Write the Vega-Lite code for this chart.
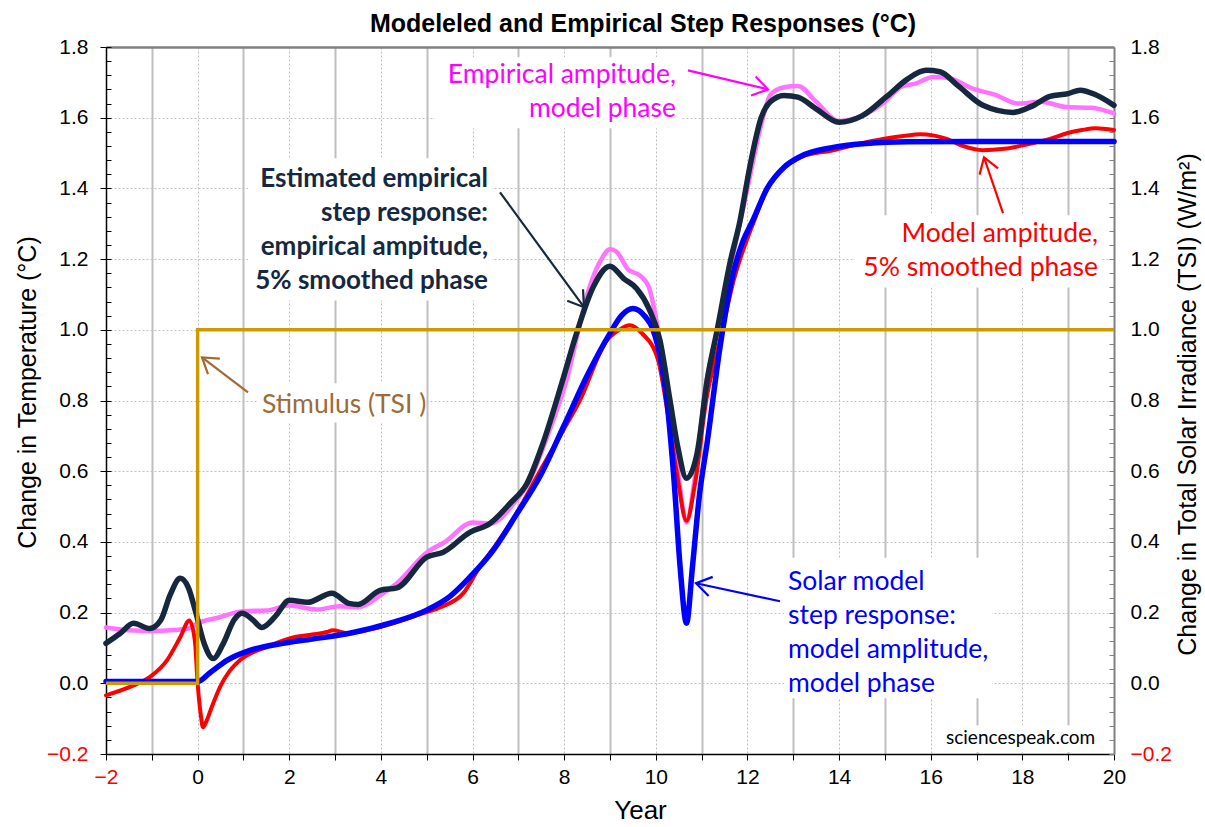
{
  "$schema": "https://vega.github.io/schema/vega-lite/v6.json",
  "width": 1008,
  "height": 707,
  "autosize": {"type": "none"},
  "padding": {"left": 106, "top": 47, "right": 91, "bottom": 73},
  "background": "white",
  "config": {"view": {"stroke": null}, "axis": {"labelFont": "Liberation Sans", "titleFont": "Liberation Sans"}},
  "title": {"text": "Modeleled and Empirical Step Responses (°C)", "font": "Liberation Sans", "fontSize": 25, "fontWeight": "bold", "color": "#000000", "anchor": "middle", "dx": 33, "offset": -1},
  "datasets": {
    "series": [
      {"s":"E","year":-2,"value":0.158},{"s":"E","year":-1.5,"value":0.150},{"s":"E","year":-1,"value":0.148},{"s":"E","year":-0.5,"value":0.151},{"s":"E","year":-0.2,"value":0.155},{"s":"E","year":0,"value":0.170},{"s":"E","year":0.4,"value":0.184},{"s":"E","year":1,"value":0.204},{"s":"E","year":1.5,"value":0.206},{"s":"E","year":2,"value":0.220},{"s":"E","year":2.6,"value":0.209},{"s":"E","year":3.1,"value":0.218},{"s":"E","year":3.5,"value":0.215},{"s":"E","year":4,"value":0.250},{"s":"E","year":4.35,"value":0.283},{"s":"E","year":5,"value":0.370},{"s":"E","year":5.4,"value":0.400},{"s":"E","year":6,"value":0.455},{"s":"E","year":6.4,"value":0.452},{"s":"E","year":6.9,"value":0.509},{"s":"E","year":7.25,"value":0.574},{"s":"E","year":7.6,"value":0.687},{"s":"E","year":8.05,"value":0.857},{"s":"E","year":8.55,"value":1.12},{"s":"E","year":8.8,"value":1.197},{"s":"E","year":9.0,"value":1.228},{"s":"E","year":9.15,"value":1.22},{"s":"E","year":9.4,"value":1.17},{"s":"E","year":9.65,"value":1.154},{"s":"E","year":9.85,"value":1.12},{"s":"E","year":10.05,"value":1.0},{"s":"E","year":10.3,"value":0.80},{"s":"E","year":10.5,"value":0.58},{"s":"E","year":10.67,"value":0.455},{"s":"E","year":10.85,"value":0.58},{"s":"E","year":11.1,"value":0.85},{"s":"E","year":11.35,"value":1.0},{"s":"E","year":11.65,"value":1.19},{"s":"E","year":12.0,"value":1.40},{"s":"E","year":12.3,"value":1.58},{"s":"E","year":12.5,"value":1.665},{"s":"E","year":12.8,"value":1.686},{"s":"E","year":13.1,"value":1.69},{"s":"E","year":13.5,"value":1.645},{"s":"E","year":14.0,"value":1.59},{"s":"E","year":14.5,"value":1.605},{"s":"E","year":15.0,"value":1.645},{"s":"E","year":15.35,"value":1.687},{"s":"E","year":15.7,"value":1.698},{"s":"E","year":16.05,"value":1.715},{"s":"E","year":16.4,"value":1.712},{"s":"E","year":16.9,"value":1.683},{"s":"E","year":17.4,"value":1.665},{"s":"E","year":17.9,"value":1.64},{"s":"E","year":18.4,"value":1.645},{"s":"E","year":18.97,"value":1.63},{"s":"E","year":19.5,"value":1.628},{"s":"E","year":20.0,"value":1.612},
      {"s":"R","year":-2,"value":-0.034},{"s":"R","year":-1.4,"value":-0.006},{"s":"R","year":-1.04,"value":0.018},{"s":"R","year":-0.67,"value":0.065},{"s":"R","year":-0.38,"value":0.13},{"s":"R","year":-0.18,"value":0.178},{"s":"R","year":-0.06,"value":0.12},{"s":"R","year":0,"value":0.0},{"s":"R","year":0.07,"value":-0.09},{"s":"R","year":0.115,"value":-0.124},{"s":"R","year":0.2,"value":-0.105},{"s":"R","year":0.3,"value":-0.07},{"s":"R","year":0.49,"value":-0.01},{"s":"R","year":0.7,"value":0.035},{"s":"R","year":0.92,"value":0.065},{"s":"R","year":1.51,"value":0.103},{"s":"R","year":2.08,"value":0.13},{"s":"R","year":2.5,"value":0.138},{"s":"R","year":2.82,"value":0.145},{"s":"R","year":2.95,"value":0.15},{"s":"R","year":3.26,"value":0.142},{"s":"R","year":3.6,"value":0.148},{"s":"R","year":4.0,"value":0.16},{"s":"R","year":4.85,"value":0.195},{"s":"R","year":5.3,"value":0.215},{"s":"R","year":5.8,"value":0.255},{"s":"R","year":6.16,"value":0.33},{"s":"R","year":6.5,"value":0.39},{"s":"R","year":7.0,"value":0.49},{"s":"R","year":7.47,"value":0.60},{"s":"R","year":8.0,"value":0.72},{"s":"R","year":8.34,"value":0.80},{"s":"R","year":8.93,"value":0.97},{"s":"R","year":9.2,"value":1.0},{"s":"R","year":9.43,"value":1.013},{"s":"R","year":9.7,"value":0.99},{"s":"R","year":10.05,"value":0.914},{"s":"R","year":10.24,"value":0.78},{"s":"R","year":10.46,"value":0.594},{"s":"R","year":10.67,"value":0.46},{"s":"R","year":10.85,"value":0.56},{"s":"R","year":11.1,"value":0.8},{"s":"R","year":11.4,"value":0.97},{"s":"R","year":11.7,"value":1.14},{"s":"R","year":12.15,"value":1.31},{"s":"R","year":12.43,"value":1.40},{"s":"R","year":12.8,"value":1.46},{"s":"R","year":13.2,"value":1.49},{"s":"R","year":13.87,"value":1.508},{"s":"R","year":14.4,"value":1.525},{"s":"R","year":14.96,"value":1.54},{"s":"R","year":15.4,"value":1.548},{"s":"R","year":15.77,"value":1.553},{"s":"R","year":16.05,"value":1.55},{"s":"R","year":16.35,"value":1.54},{"s":"R","year":16.7,"value":1.52},{"s":"R","year":17.14,"value":1.508},{"s":"R","year":17.6,"value":1.512},{"s":"R","year":18.2,"value":1.527},{"s":"R","year":18.6,"value":1.54},{"s":"R","year":18.97,"value":1.556},{"s":"R","year":19.3,"value":1.565},{"s":"R","year":19.6,"value":1.57},{"s":"R","year":20.0,"value":1.565},
      {"s":"B","year":-2,"value":0.005},{"s":"B","year":-1,"value":0.005},{"s":"B","year":0,"value":0.005},{"s":"B","year":0.27,"value":0.03},{"s":"B","year":0.64,"value":0.065},{"s":"B","year":1.14,"value":0.093},{"s":"B","year":1.86,"value":0.113},{"s":"B","year":2.5,"value":0.125},{"s":"B","year":3.26,"value":0.14},{"s":"B","year":3.61,"value":0.15},{"s":"B","year":4.2,"value":0.17},{"s":"B","year":5.0,"value":0.207},{"s":"B","year":5.5,"value":0.245},{"s":"B","year":5.94,"value":0.3},{"s":"B","year":6.45,"value":0.376},{"s":"B","year":6.97,"value":0.48},{"s":"B","year":7.47,"value":0.585},{"s":"B","year":8.0,"value":0.73},{"s":"B","year":8.5,"value":0.87},{"s":"B","year":9.0,"value":0.99},{"s":"B","year":9.25,"value":1.04},{"s":"B","year":9.5,"value":1.06},{"s":"B","year":9.75,"value":1.04},{"s":"B","year":9.94,"value":1.0},{"s":"B","year":10.1,"value":0.92},{"s":"B","year":10.24,"value":0.80},{"s":"B","year":10.4,"value":0.57},{"s":"B","year":10.53,"value":0.33},{"s":"B","year":10.67,"value":0.17},{"s":"B","year":10.8,"value":0.33},{"s":"B","year":10.95,"value":0.53},{"s":"B","year":11.12,"value":0.68},{"s":"B","year":11.4,"value":0.95},{"s":"B","year":11.69,"value":1.16},{"s":"B","year":11.9,"value":1.25},{"s":"B","year":12.12,"value":1.31},{"s":"B","year":12.43,"value":1.40},{"s":"B","year":12.8,"value":1.46},{"s":"B","year":13.15,"value":1.49},{"s":"B","year":13.87,"value":1.516},{"s":"B","year":14.6,"value":1.527},{"s":"B","year":15.5,"value":1.532},{"s":"B","year":17,"value":1.533},{"s":"B","year":20,"value":1.533},
      {"s":"N","year":-2,"value":0.113},{"s":"N","year":-1.7,"value":0.14},{"s":"N","year":-1.4,"value":0.170},{"s":"N","year":-1.05,"value":0.155},{"s":"N","year":-0.8,"value":0.18},{"s":"N","year":-0.6,"value":0.25},{"s":"N","year":-0.38,"value":0.297},{"s":"N","year":-0.2,"value":0.27},{"s":"N","year":-0.05,"value":0.205},{"s":"N","year":0.15,"value":0.11},{"s":"N","year":0.34,"value":0.07},{"s":"N","year":0.55,"value":0.11},{"s":"N","year":0.8,"value":0.18},{"s":"N","year":0.97,"value":0.198},{"s":"N","year":1.2,"value":0.18},{"s":"N","year":1.4,"value":0.158},{"s":"N","year":1.7,"value":0.19},{"s":"N","year":2.0,"value":0.235},{"s":"N","year":2.4,"value":0.229},{"s":"N","year":2.93,"value":0.255},{"s":"N","year":3.3,"value":0.226},{"s":"N","year":3.5,"value":0.223},{"s":"N","year":3.98,"value":0.263},{"s":"N","year":4.35,"value":0.27},{"s":"N","year":5.0,"value":0.357},{"s":"N","year":5.36,"value":0.371},{"s":"N","year":5.94,"value":0.427},{"s":"N","year":6.38,"value":0.452},{"s":"N","year":6.82,"value":0.509},{"s":"N","year":7.19,"value":0.566},{"s":"N","year":7.54,"value":0.68},{"s":"N","year":7.95,"value":0.85},{"s":"N","year":8.27,"value":0.99},{"s":"N","year":8.63,"value":1.12},{"s":"N","year":9.0,"value":1.18},{"s":"N","year":9.3,"value":1.145},{"s":"N","year":9.58,"value":1.117},{"s":"N","year":9.85,"value":1.06},{"s":"N","year":10.09,"value":0.97},{"s":"N","year":10.31,"value":0.8},{"s":"N","year":10.48,"value":0.668},{"s":"N","year":10.67,"value":0.58},{"s":"N","year":10.9,"value":0.65},{"s":"N","year":11.12,"value":0.857},{"s":"N","year":11.34,"value":1.0},{"s":"N","year":11.62,"value":1.19},{"s":"N","year":11.84,"value":1.31},{"s":"N","year":12.05,"value":1.46},{"s":"N","year":12.3,"value":1.60},{"s":"N","year":12.5,"value":1.645},{"s":"N","year":12.8,"value":1.663},{"s":"N","year":13.1,"value":1.658},{"s":"N","year":13.5,"value":1.625},{"s":"N","year":14.0,"value":1.587},{"s":"N","year":14.5,"value":1.605},{"s":"N","year":15.04,"value":1.66},{"s":"N","year":15.5,"value":1.71},{"s":"N","year":15.9,"value":1.734},{"s":"N","year":16.2,"value":1.73},{"s":"N","year":16.6,"value":1.69},{"s":"N","year":17.14,"value":1.635},{"s":"N","year":17.8,"value":1.615},{"s":"N","year":18.2,"value":1.632},{"s":"N","year":18.6,"value":1.66},{"s":"N","year":19.0,"value":1.668},{"s":"N","year":19.26,"value":1.678},{"s":"N","year":19.6,"value":1.665},{"s":"N","year":20.0,"value":1.635},
      {"s":"S","year":-2,"value":0},{"s":"S","year":0,"value":0},{"s":"S","year":0,"value":1},{"s":"S","year":20,"value":1}
    ],
    "boxes": [
      {"x1":5.181,"x2":10.571,"y1":1.771,"y2":1.570},
      {"x1":1.099,"x2":6.425,"y1":1.485,"y2":1.083},
      {"x1":14.347,"x2":19.738,"y1":1.324,"y2":1.120},
      {"x1":12.798,"x2":17.337,"y1":0.355,"y2":-0.042},
      {"x1":1.317,"x2":4.962,"y1":0.849,"y2":0.738},
      {"x1":16.159,"x2":19.694,"y1":-0.119,"y2":-0.195}
    ],
    "arrows": [
      {"c":"Et","x1":10.702,"y1":1.734,"x2":12.448,"y2":1.680,"angle":13.4},
      {"c":"N","x1":6.599,"y1":1.389,"x2":8.432,"y2":1.064,"angle":53.9},
      {"c":"R","x1":17.577,"y1":1.330,"x2":17.163,"y2":1.488,"angle":-108.7},
      {"c":"B","x1":12.710,"y1":0.232,"x2":10.877,"y2":0.283,"angle":-167.9},
      {"c":"St","x1":1.099,"y1":0.823,"x2":0.095,"y2":0.922,"angle":-142.7}
    ],
    "notesRight": [
      {"c":"Et","x":10.44,"y":1.697,"t":"Empirical ampitude,\nmodel phase"},
      {"c":"R","x":19.651,"y":1.2475,"t":"Model ampitude,\n5% smoothed phase"}
    ],
    "notesBold": [
      {"c":"N","x":6.337,"y":1.403,"t":"Estimated empirical\nstep response:\nempirical ampitude,\n5% smoothed phase"}
    ],
    "notesLeft": [
      {"c":"B","x":12.885,"y":0.263,"t":"Solar model\nstep response:\nmodel amplitude,\nmodel phase"},
      {"c":"St","x":1.405,"y":0.764,"t":"Stimulus (TSI )"}
    ],
    "credit": [
      {"c":"K","x":16.333,"y":-0.1726,"t":"sciencespeak.com"}
    ]
  },
  "layer": [
    {
      "data": {"name": "boxes"},
      "mark": {"type": "rect", "fill": "white", "stroke": null},
      "encoding": {
        "x": {"field": "x1", "type": "quantitative", "scale": {"domain": [-2, 20], "nice": false, "zero": false}, "axis": null},
        "x2": {"field": "x2"},
        "y": {"field": "y1", "type": "quantitative", "scale": {"domain": [-0.2, 1.8], "nice": false, "zero": false}, "axis": null},
        "y2": {"field": "y2"}
      }
    },
    {
      "data": {"name": "series"},
      "transform": [{"filter": "datum.s == 'E'"}],
      "mark": {"type": "line", "interpolate": "monotone", "strokeWidth": 4.5, "strokeCap": "round", "strokeJoin": "round"},
      "encoding": {
        "x": {"field": "year", "type": "quantitative", "scale": {"domain": [-2, 20], "nice": false, "zero": false},
          "axis": {"orient": "bottom", "values": [-2,-1,0,1,2,3,4,5,6,7,8,9,10,11,12,13,14,15,16,17,18,19,20],
            "labelExpr": "abs(datum.value) % 2 == 0 ? datum.label : ''", "labelFontSize": 21, "labelPadding": 6, "labelFlush": false, "labelOverlap": false,
            "labelColor": {"condition": {"test": "datum.value == -2", "value": "#FF0000"}, "value": "#000000"},
            "tickSize": 6, "tickColor": "#000000", "domainColor": "#000000", "domainWidth": 1.5,
            "grid": true, "gridColor": "#BFBFBF",
            "gridDash": {"condition": {"test": "abs(datum.value) % 2 == 1", "value": []}, "value": [2, 2]},
            "gridWidth": {"condition": {"test": "abs(datum.value) % 2 == 1", "value": 2}, "value": 1},
            "title": "Year", "titleFontSize": 26, "titleFontWeight": "normal", "titleColor": "#000000", "titleX": 534, "titleY": 64, "titleBaseline": "alphabetic"}},
        "y": {"field": "value", "type": "quantitative", "scale": {"domain": [-0.2, 1.8], "nice": false, "zero": false},
          "axis": {"orient": "left", "values": [-0.2,0,0.2,0.4,0.6,0.8,1,1.2,1.4,1.6,1.8], "format": ".1f", "labelFontSize": 21, "labelPadding": 12, "labelFlush": false,
            "labelColor": {"condition": {"test": "datum.value < -0.1", "value": "#FF0000"}, "value": "#000000"},
            "tickSize": 6, "tickColor": "#000000", "domainColor": "#000000", "domainWidth": 1.5,
            "grid": true, "gridColor": "#C0C0C0", "gridDash": [2, 2], "gridWidth": 1,
            "title": "Change in Temperature (°C)", "titleFontSize": 25, "titleFontWeight": "normal", "titleColor": "#000000", "titleX": -71, "titleY": 345, "titleBaseline": "alphabetic"}},
        "color": {"field": "s", "type": "nominal", "legend": null, "scale": {"domain": ["E","N","R","B","S","Et","St","K"], "range": ["#FF73FF","#15283F","#FF0000","#0000FF","#CF9A00","#FF00FF","#A06A36","#000000"]}},
        "order": {"value": null}
      }
    },
    {
      "data": {"name": "series"},
      "transform": [{"filter": "datum.s == 'R'"}],
      "mark": {"type": "line", "interpolate": "monotone", "strokeWidth": 4, "strokeCap": "round", "strokeJoin": "round"},
      "encoding": {
        "x": {"field": "year", "type": "quantitative", "scale": {"domain": [-2, 20], "nice": false, "zero": false},
          "axis": {"orient": "top", "labels": false, "ticks": false, "grid": false, "domainColor": "#808080", "domainWidth": 2.5, "title": null}},
        "y": {"field": "value", "type": "quantitative", "scale": {"domain": [-0.2, 1.8], "nice": false, "zero": false},
          "axis": {"orient": "left", "values": [-0.2,-0.16,-0.12,-0.08,-0.04,0,0.04,0.08,0.12,0.16,0.2,0.24,0.28,0.32,0.36,0.4,0.44,0.48,0.52,0.56,0.6,0.64,0.68,0.72,0.76,0.8,0.84,0.88,0.92,0.96,1,1.04,1.08,1.12,1.16,1.2,1.24,1.28,1.32,1.36,1.4,1.44,1.48,1.52,1.56,1.6,1.64,1.68,1.72,1.76,1.8],
            "labels": false, "tickSize": -5, "tickColor": "#000000", "domain": false, "grid": false, "title": null}},
        "color": {"field": "s", "type": "nominal", "legend": null, "scale": {"domain": ["E","N","R","B","S","Et","St","K"], "range": ["#FF73FF","#15283F","#FF0000","#0000FF","#CF9A00","#FF00FF","#A06A36","#000000"]}},
        "order": {"value": null}
      }
    },
    {
      "data": {"name": "series"},
      "transform": [{"filter": "datum.s == 'B'"}],
      "mark": {"type": "line", "interpolate": "monotone", "strokeWidth": 5.5, "strokeCap": "round", "strokeJoin": "round"},
      "encoding": {
        "x": {"field": "year", "type": "quantitative", "scale": {"domain": [-2, 20], "nice": false, "zero": false}, "axis": null},
        "y": {"field": "value", "type": "quantitative", "scale": {"domain": [-0.2, 1.8], "nice": false, "zero": false},
          "axis": {"orient": "right", "values": [-0.2,0,0.2,0.4,0.6,0.8,1,1.2,1.4,1.6,1.8], "format": ".1f", "labelFontSize": 21, "labelPadding": 16, "labelFlush": false,
            "labelColor": {"condition": {"test": "datum.value < -0.1", "value": "#FF0000"}, "value": "#000000"},
            "ticks": false, "domainColor": "#808080", "domainWidth": 2, "grid": false,
            "title": "Change in Total Solar Irradiance (TSI) (W/m²)", "titleFontSize": 25, "titleFontWeight": "normal", "titleColor": "#000000", "titleAngle": -90, "titleX": 81, "titleY": 357, "titleBaseline": "alphabetic"}},
        "color": {"field": "s", "type": "nominal", "legend": null, "scale": {"domain": ["E","N","R","B","S","Et","St","K"], "range": ["#FF73FF","#15283F","#FF0000","#0000FF","#CF9A00","#FF00FF","#A06A36","#000000"]}},
        "order": {"value": null}
      }
    },
    {
      "data": {"name": "series"},
      "transform": [{"filter": "datum.s == 'N'"}],
      "mark": {"type": "line", "interpolate": "monotone", "strokeWidth": 5.5, "strokeCap": "round", "strokeJoin": "round"},
      "encoding": {
        "x": {"field": "year", "type": "quantitative", "scale": {"domain": [-2, 20], "nice": false, "zero": false}, "axis": null},
        "y": {"field": "value", "type": "quantitative", "scale": {"domain": [-0.2, 1.8], "nice": false, "zero": false},
          "axis": {"orient": "right", "values": [-0.2,-0.16,-0.12,-0.08,-0.04,0,0.04,0.08,0.12,0.16,0.2,0.24,0.28,0.32,0.36,0.4,0.44,0.48,0.52,0.56,0.6,0.64,0.68,0.72,0.76,0.8,0.84,0.88,0.92,0.96,1,1.04,1.08,1.12,1.16,1.2,1.24,1.28,1.32,1.36,1.4,1.44,1.48,1.52,1.56,1.6,1.64,1.68,1.72,1.76,1.8],
            "labels": false, "tickSize": -5, "tickColor": "#808080", "domain": false, "grid": false, "title": null}},
        "color": {"field": "s", "type": "nominal", "legend": null, "scale": {"domain": ["E","N","R","B","S","Et","St","K"], "range": ["#FF73FF","#15283F","#FF0000","#0000FF","#CF9A00","#FF00FF","#A06A36","#000000"]}},
        "order": {"value": null}
      }
    },
    {
      "data": {"name": "series"},
      "transform": [{"filter": "datum.s == 'S'"}],
      "mark": {"type": "line", "strokeWidth": 3.5},
      "encoding": {
        "x": {"field": "year", "type": "quantitative", "scale": {"domain": [-2, 20], "nice": false, "zero": false}, "axis": null},
        "y": {"field": "value", "type": "quantitative", "scale": {"domain": [-0.2, 1.8], "nice": false, "zero": false}, "axis": null},
        "color": {"field": "s", "type": "nominal", "legend": null, "scale": {"domain": ["E","N","R","B","S","Et","St","K"], "range": ["#FF73FF","#15283F","#FF0000","#0000FF","#CF9A00","#FF00FF","#A06A36","#000000"]}},
        "order": {"value": null}
      }
    },
    {
      "data": {"name": "arrows"},
      "mark": {"type": "rule", "strokeWidth": 2.2},
      "encoding": {
        "x": {"field": "x1", "type": "quantitative", "scale": {"domain": [-2, 20], "nice": false, "zero": false}, "axis": null},
        "x2": {"field": "x2"},
        "y": {"field": "y1", "type": "quantitative", "scale": {"domain": [-0.2, 1.8], "nice": false, "zero": false}, "axis": null},
        "y2": {"field": "y2"},
        "color": {"field": "c", "type": "nominal", "legend": null, "scale": {"domain": ["E","N","R","B","S","Et","St","K"], "range": ["#FF73FF","#15283F","#FF0000","#0000FF","#CF9A00","#FF00FF","#A06A36","#000000"]}}
      }
    },
    {
      "data": {"name": "arrows"},
      "mark": {"type": "point", "shape": "M-1,-0.65L0,0L-1,0.65", "filled": false, "size": 900, "strokeWidth": 2.2, "opacity": 1},
      "encoding": {
        "x": {"field": "x2", "type": "quantitative", "scale": {"domain": [-2, 20], "nice": false, "zero": false}, "axis": null},
        "y": {"field": "y2", "type": "quantitative", "scale": {"domain": [-0.2, 1.8], "nice": false, "zero": false}, "axis": null},
        "angle": {"field": "angle", "type": "quantitative", "scale": null},
        "color": {"field": "c", "type": "nominal", "legend": null, "scale": {"domain": ["E","N","R","B","S","Et","St","K"], "range": ["#FF73FF","#15283F","#FF0000","#0000FF","#CF9A00","#FF00FF","#A06A36","#000000"]}}
      }
    },
    {
      "data": {"name": "notesRight"},
      "mark": {"type": "text", "font": "Lato", "fontSize": 26.5, "align": "right", "baseline": "alphabetic", "lineBreak": "\n", "lineHeight": 34},
      "encoding": {
        "x": {"field": "x", "type": "quantitative", "scale": {"domain": [-2, 20], "nice": false, "zero": false}, "axis": null},
        "y": {"field": "y", "type": "quantitative", "scale": {"domain": [-0.2, 1.8], "nice": false, "zero": false}, "axis": null},
        "text": {"field": "t"},
        "color": {"field": "c", "type": "nominal", "legend": null, "scale": {"domain": ["E","N","R","B","S","Et","St","K"], "range": ["#FF73FF","#15283F","#FF0000","#0000FF","#CF9A00","#FF00FF","#A06A36","#000000"]}}
      }
    },
    {
      "data": {"name": "notesBold"},
      "mark": {"type": "text", "font": "Lato", "fontSize": 26, "fontWeight": "bold", "align": "right", "baseline": "alphabetic", "lineBreak": "\n", "lineHeight": 34},
      "encoding": {
        "x": {"field": "x", "type": "quantitative", "scale": {"domain": [-2, 20], "nice": false, "zero": false}, "axis": null},
        "y": {"field": "y", "type": "quantitative", "scale": {"domain": [-0.2, 1.8], "nice": false, "zero": false}, "axis": null},
        "text": {"field": "t"},
        "color": {"field": "c", "type": "nominal", "legend": null, "scale": {"domain": ["E","N","R","B","S","Et","St","K"], "range": ["#FF73FF","#15283F","#FF0000","#0000FF","#CF9A00","#FF00FF","#A06A36","#000000"]}}
      }
    },
    {
      "data": {"name": "notesLeft"},
      "mark": {"type": "text", "font": "Lato", "fontSize": 26.5, "align": "left", "baseline": "alphabetic", "lineBreak": "\n", "lineHeight": 34},
      "encoding": {
        "x": {"field": "x", "type": "quantitative", "scale": {"domain": [-2, 20], "nice": false, "zero": false}, "axis": null},
        "y": {"field": "y", "type": "quantitative", "scale": {"domain": [-0.2, 1.8], "nice": false, "zero": false}, "axis": null},
        "text": {"field": "t"},
        "color": {"field": "c", "type": "nominal", "legend": null, "scale": {"domain": ["E","N","R","B","S","Et","St","K"], "range": ["#FF73FF","#15283F","#FF0000","#0000FF","#CF9A00","#FF00FF","#A06A36","#000000"]}}
      }
    },
    {
      "data": {"name": "credit"},
      "mark": {"type": "text", "font": "Lato", "fontSize": 19, "align": "left", "baseline": "alphabetic"},
      "encoding": {
        "x": {"field": "x", "type": "quantitative", "scale": {"domain": [-2, 20], "nice": false, "zero": false}, "axis": null},
        "y": {"field": "y", "type": "quantitative", "scale": {"domain": [-0.2, 1.8], "nice": false, "zero": false}, "axis": null},
        "text": {"field": "t"},
        "color": {"field": "c", "type": "nominal", "legend": null, "scale": {"domain": ["E","N","R","B","S","Et","St","K"], "range": ["#FF73FF","#15283F","#FF0000","#0000FF","#CF9A00","#FF00FF","#A06A36","#000000"]}}
      }
    }
  ],
  "resolve": {"axis": {"x": "independent", "y": "independent"}}
}
